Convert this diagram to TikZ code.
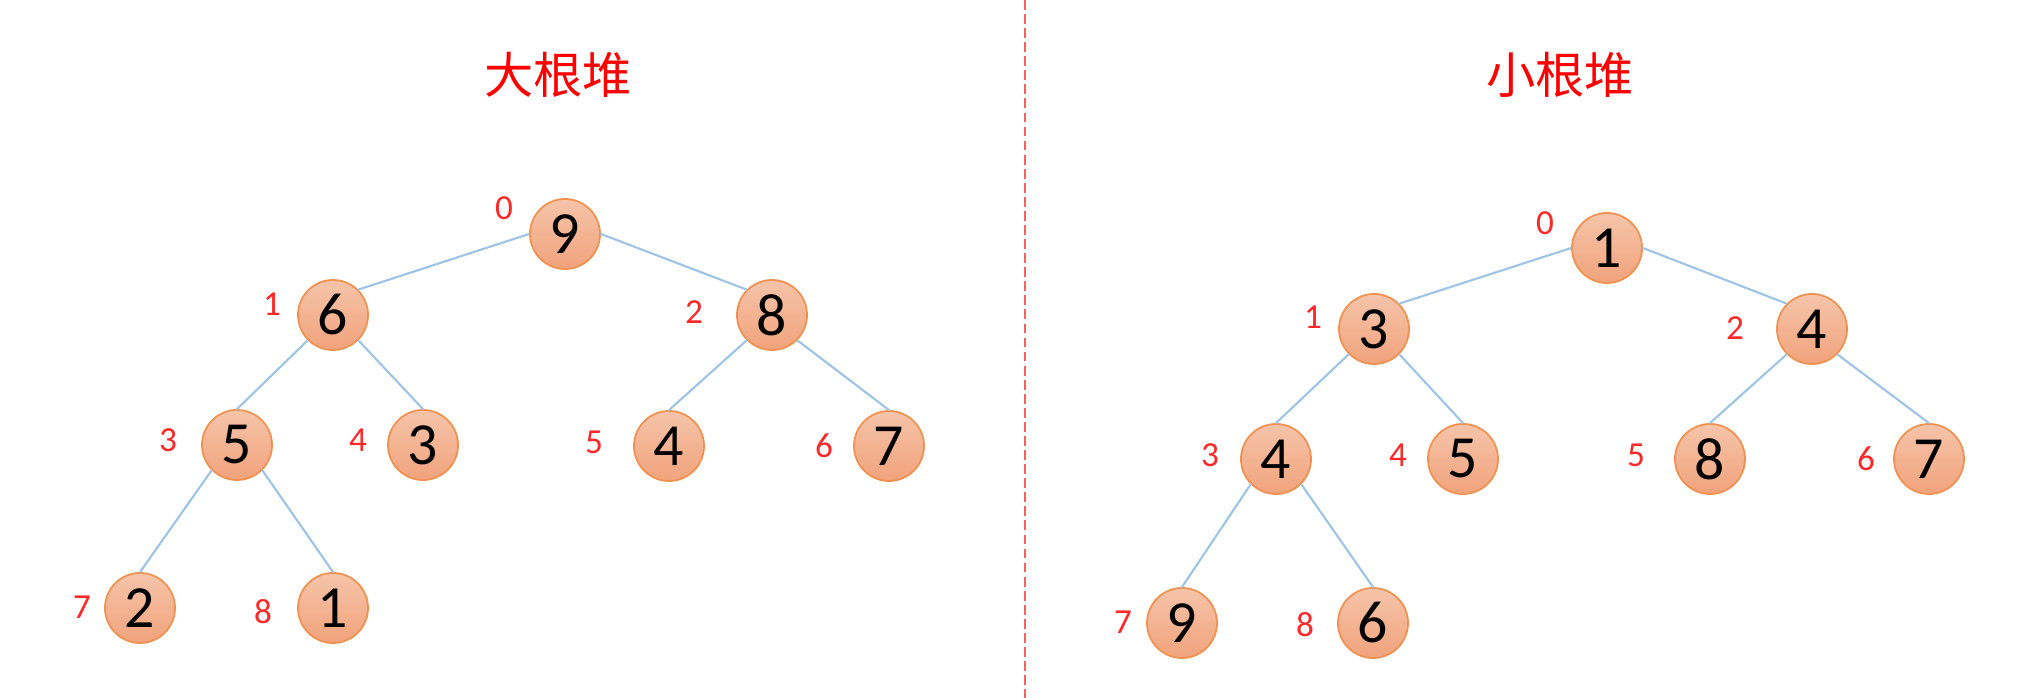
\documentclass[tikz,border=0pt]{standalone}
\usepackage{fontspec}
\setmainfont{Carlito}
\newfontfamily\cjk{Noto Sans CJK SC}
\usepackage{tikz}
\usetikzlibrary{shadings}
\definecolor{idxred}{RGB}{255,40,40}
\definecolor{edgeblue}{RGB}{157,195,230}
\definecolor{ballline}{RGB}{240,145,80}
\definecolor{balltop}{RGB}{246,196,170}
\definecolor{ballbot}{RGB}{241,163,124}
\tikzset{
  ball/.style={circle,draw=ballline,line width=0.5pt,top color=balltop,bottom color=ballbot,
    minimum size=0.7cm,inner sep=0pt,font=\fontsize{17}{17}\selectfont},
  idx/.style={text=idxred,font=\fontsize{10}{10}\selectfont,inner sep=0pt},
  edge/.style={draw=edgeblue,line width=0.6pt},
  title/.style={text=red,font=\cjk\fontsize{14}{14}\selectfont,inner sep=0pt}
}
\begin{document}
\begin{tikzpicture}[line cap=round,line join=round,x=0.01cm,y=-0.01cm]
      \useasboundingbox (0,0) rectangle (2038,698);
      \draw[idxred!75,line width=0.55pt,dash pattern=on 2.8pt off 1.2pt,line cap=butt] (1025,0) -- (1025,698);
      \node[title] (tbig) at (558,75) {大根堆};
      \node[title] (tsmall) at (1560,75) {小根堆};
      % big heap
      \foreach \i/\x/\y/\v in {0/565/234/9,1/333/315/6,2/772/315/8,3/237/445/5,4/423/445/3,5/669/446/4,6/889/446/7,7/140/608/2,8/333/608/1}
      \node[ball] (a\i) at (\x,\y) {\v};
      \foreach \i/\x/\y in {0/504/208,1/272/304,2/694/312,3/168/440,4/358/440,5/594/442,6/824/446,7/82/607,8/263/612}
      \node[idx] (na\i) at (\x,\y) {\i};
      % small heap
      \foreach \i/\x/\y/\v in {0/1607/248/1,1/1374/329/3,2/1812/329/4,3/1276/459/4,4/1463/459/5,5/1710/459/8,6/1929/459/7,7/1182/623/9,8/1373/623/6}
      \node[ball] (b\i) at (\x,\y) {\v};
      \foreach \i/\x/\y in {0/1545/223,1/1313/317,2/1735/328,3/1210/455,4/1398/455,5/1636/455,6/1866/459,7/1123/622,8/1305/625}
      \node[idx] (nb\i) at (\x,\y) {\i};
      % edges: parent anchor / child anchor
      \foreach \p/\c/\f/\t in {0/1/west/north east,0/2/east/north west,1/3/south west/north,1/4/south east/north,2/5/south west/north,2/6/south east/north,3/7/south west/north,3/8/south east/north}
      {\draw[edge] (a\p.\f) -- (a\c.\t);
       \draw[edge] (b\p.\f) -- (b\c.\t);}
\end{tikzpicture}
\end{document}
